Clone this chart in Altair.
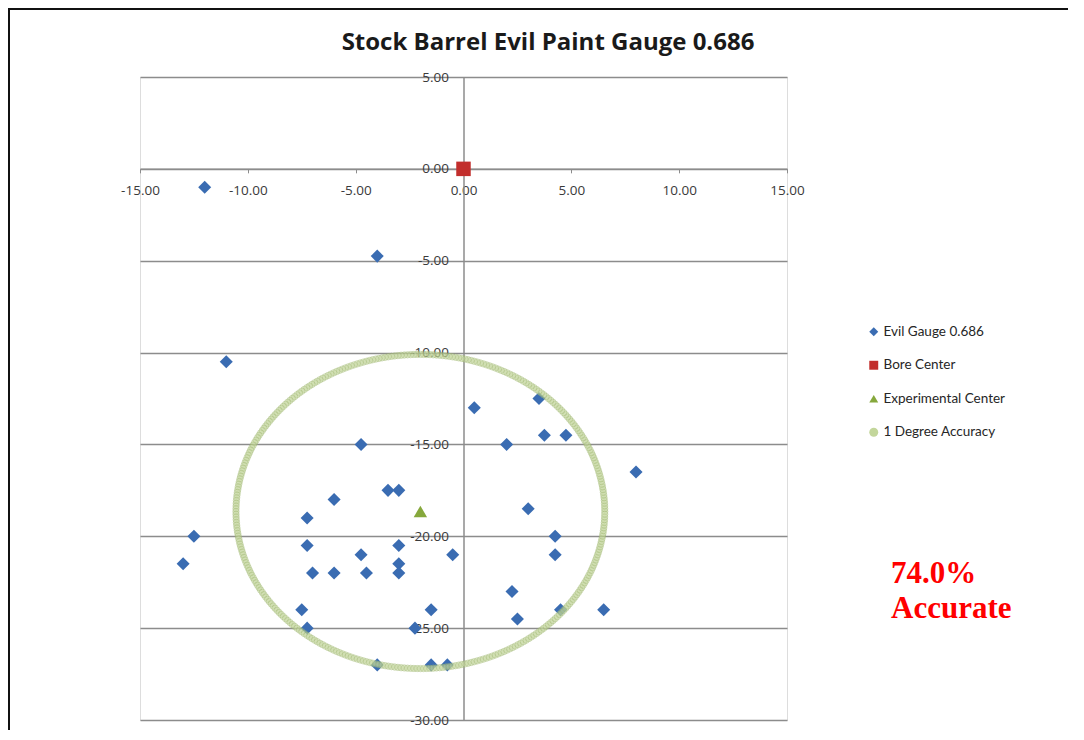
import altair as alt
import pandas as pd

TITLE = "Stock Barrel Evil Paint Gauge 0.686"

SERIES = ["Evil Gauge 0.686", "Bore Center", "Experimental Center", "1 Degree Accuracy"]
SERIES_COLORS = ["#3a6cb2", "#c22e2c", "#86a83c", "#c3d69b"]
SERIES_SHAPES = ["diamond", "square", "triangle-up", "circle"]

# Evil Gauge 0.686 shots
GAUGE_X = [-12.0, -4.0, -11.0, 0.5, 3.5, 3.75, 4.75, 2.0, -4.75, 8.0,
           -6.0, -3.5, -3.0, -7.25, 3.0, -12.5, -7.25, -4.75, -3.0, -0.5,
           -13.0, -7.0, -6.0, -4.5, -3.0, -3.0, 4.25, 4.25, 2.25, -7.5,
           -7.25, -1.5, -2.25, 2.5, 4.5, 6.5, -4.0, -1.5, -0.75]
GAUGE_Y = [-1.0, -4.75, -10.5, -13.0, -12.5, -14.5, -14.5, -15.0, -15.0, -16.5,
           -18.0, -17.5, -17.5, -19.0, -18.5, -20.0, -20.5, -21.0, -20.5, -21.0,
           -21.5, -22.0, -22.0, -22.0, -21.5, -22.0, -20.0, -21.0, -23.0, -24.0,
           -25.0, -24.0, -25.0, -24.5, -24.0, -24.0, -27.0, -27.0, -27.0]

BORE_X = [0.0]
BORE_Y = [0.0]

EXP_X = [-2.0]
EXP_Y = [-18.65]

# "1 Degree Accuracy" ring: centre and radius in data units
RING_CX = -2.0
RING_CY = -18.65
RING_R = 8.55

X_TICKS = [-15, -10, -5, 0, 5, 10, 15]
Y_TICKS = [5, 0, -5, -10, -15, -20, -25, -30]
X_DOMAIN = [-15, 15]
Y_DOMAIN = [-30, 5]

ANNOTATION = ["74.0%", "Accurate"]

W, H = 647, 643
PAD = {"left": 132, "top": 69, "right": 281, "bottom": 10}
GRID = "#8c8c8c"
LABEL_EXPR = "replace(format(datum.value, '.2f'), '\u2212', '-')"

points = pd.concat([
    pd.DataFrame({"x": GAUGE_X, "y": GAUGE_Y, "series": SERIES[0]}),
    pd.DataFrame({"x": BORE_X, "y": BORE_Y, "series": SERIES[1]}),
    pd.DataFrame({"x": EXP_X, "y": EXP_Y, "series": SERIES[2]}),
], ignore_index=True)

x_enc = alt.X(
    "x:Q",
    scale=alt.Scale(domain=X_DOMAIN, nice=False, zero=False),
    axis=alt.Axis(
        values=X_TICKS, labelExpr=LABEL_EXPR, title=None, grid=False,
        offset=-(H * (0 - Y_DOMAIN[0]) / (Y_DOMAIN[1] - Y_DOMAIN[0])),
        domainColor=GRID, domainWidth=1.5, tickColor=GRID, tickSize=4, tickWidth=1,
        labelFont="Open Sans", labelFontSize=13.5, labelColor="#3a3a3a",
        labelPadding=11, labelFlush=False, labelOverlap=False,
    ),
)
y_enc = alt.Y(
    "y:Q",
    scale=alt.Scale(domain=Y_DOMAIN, nice=False, zero=False),
    axis=alt.Axis(
        values=Y_TICKS, labelExpr=LABEL_EXPR, title=None, grid=True,
        gridColor=GRID, gridWidth=1.5,
        offset=-(W * (0 - X_DOMAIN[0]) / (X_DOMAIN[1] - X_DOMAIN[0])),
        domainColor=GRID, domainWidth=1.5, tickColor=GRID, tickSize=5, tickWidth=1,
        labelFont="Open Sans", labelFontSize=13.5, labelColor="#3a3a3a",
        labelPadding=10, labelFlush=False, labelOverlap=False,
    ),
)

legend = alt.Legend(
    title=None, orient="none", legendX=727, legendY=248,
    labelFont="Lato", labelFontSize=13.5, labelColor="#262626",
    symbolSize=80, rowPadding=18.5, labelOffset=3, symbolStrokeWidth=0,
)
color_enc = alt.Color("series:N", scale=alt.Scale(domain=SERIES, range=SERIES_COLORS),
                      legend=legend, sort=SERIES)
shape_enc = alt.Shape("series:N", scale=alt.Scale(domain=SERIES, range=SERIES_SHAPES),
                      legend=legend, sort=SERIES)

base = alt.Chart(points)

gauge = base.transform_filter(alt.datum.series == SERIES[0]).mark_point(
    filled=True, size=170, opacity=1
).encode(x=x_enc, y=y_enc, color=color_enc, shape=shape_enc)

bore = base.transform_filter(alt.datum.series == SERIES[1]).mark_point(
    filled=True, size=210, opacity=1
).encode(x="x:Q", y="y:Q", color=color_enc, shape=shape_enc)

exp = base.transform_filter(alt.datum.series == SERIES[2]).mark_point(
    filled=True, size=180, opacity=1
).encode(x="x:Q", y="y:Q", color=color_enc, shape=shape_enc)

ring = alt.Chart(alt.sequence(0, 360, 1, as_="deg")).transform_calculate(
    x=f"{RING_CX} + {RING_R} * cos(datum.deg * PI / 180)",
    y=f"{RING_CY} + {RING_R} * sin(datum.deg * PI / 180)",
    series=f"'{SERIES[3]}'",
).mark_point(
    filled=True, size=40, opacity=0.5, stroke="#a3bb74", strokeWidth=1
).encode(x="x:Q", y="y:Q", color=color_enc, shape=shape_enc)

one = pd.DataFrame({"a": [0]})
border_left = alt.Chart(one).mark_rule(color="#111111", strokeWidth=2).encode(
    x=alt.value(-PAD["left"] + 1), y=alt.value(-PAD["top"]), y2=alt.value(H + PAD["bottom"])
)
border_top = alt.Chart(one).mark_rule(color="#111111", strokeWidth=2).encode(
    x=alt.value(-PAD["left"]), x2=alt.value(W + PAD["right"]), y=alt.value(-PAD["top"] + 1)
)

title = alt.Chart(pd.DataFrame({"t": [TITLE]})).mark_text(
    font="Open Sans", fontSize=24, fontWeight="bold", color="#1a1a1a",
    align="center", baseline="alphabetic"
).encode(text="t:N", x=alt.value(408), y=alt.value(-27))

ann1 = alt.Chart(pd.DataFrame({"t": [ANNOTATION[0]]})).mark_text(
    font="Liberation Serif", fontSize=31, fontWeight="bold", color="#ff0000",
    align="left", baseline="alphabetic"
).encode(text="t:N", x=alt.value(751), y=alt.value(506))
ann2 = alt.Chart(pd.DataFrame({"t": [ANNOTATION[1]]})).mark_text(
    font="Liberation Serif", fontSize=31, fontWeight="bold", color="#ff0000",
    align="left", baseline="alphabetic"
).encode(text="t:N", x=alt.value(751), y=alt.value(541))

chart = alt.layer(gauge, bore, exp, ring, title, ann1, ann2, border_left, border_top).properties(
    width=W, height=H,
    padding=PAD,
    autosize=alt.AutoSizeParams(type="none"),
).configure_view(stroke=None).configure(background="white")

chart.save("out.html", embed_options={"renderer": "svg", "actions": False})
